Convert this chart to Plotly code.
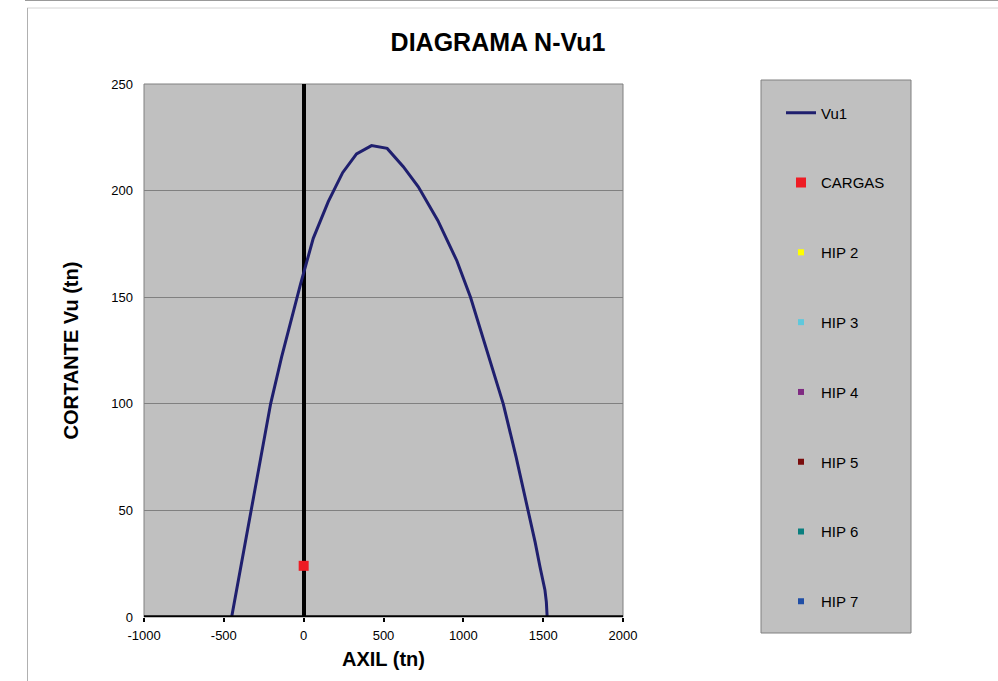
import plotly.graph_objects as go

# Interaction curve N - Vu1 (axial load vs. shear capacity)
axil_tn = [-451, -391, -330, -269, -207, -138, -70, -20, 60, 154, 244, 331,
           425, 523, 624, 718, 840, 960, 1045, 1146, 1250, 1330, 1407, 1450,
           1480, 1500, 1511, 1520, 1525]
cortante_tn = [0, 25, 50, 75, 100, 122, 142, 156, 177.6, 194.8, 208.4, 217.2,
               221.1, 219.8, 211.2, 201.8, 186, 167, 150, 125, 100, 75.2, 50,
               35, 23.6, 16.5, 12.7, 7, 0]

# Load case
cargas_n = [0]
cargas_v = [24]

# Empty load hypotheses shown in the legend
hip_names = ["HIP 2", "HIP 3", "HIP 4", "HIP 5", "HIP 6", "HIP 7"]
hip_colors = ["#ffff00", "#5fc8dc", "#7f2a82", "#7a0c0c", "#0a7f7f", "#1f4ea6"]

x_ticks = [-1000, -500, 0, 500, 1000, 1500, 2000]
x_labels = ["-1000", "-500", "0", "500", "1000", "1500", "2000"]
y_ticks = [0, 50, 100, 150, 200, 250]

FONT = "Arial, 'Liberation Sans', sans-serif"

W, H = 998, 681
ML, MR, MT, MB = 144, 375, 84, 64
PW, PH = W - ML - MR, H - MT - MB


def px(xp):
    return (xp - ML) / PW


def py(yp):
    return (H - MB - yp) / PH


fig = go.Figure()

fig.add_trace(go.Scatter(
    x=axil_tn, y=cortante_tn, mode="lines", name="Vu1",
    line=dict(color="#1f1f6e", width=3), legendgroup="g0",
))
fig.add_trace(go.Scatter(
    x=cargas_n, y=cargas_v, mode="markers", name="CARGAS",
    marker=dict(symbol="square", size=10, color="#ee1c24"), legendgroup="g1",
))
for i, (name, color) in enumerate(zip(hip_names, hip_colors)):
    fig.add_trace(go.Scatter(
        x=[None], y=[None], mode="markers", name=name,
        marker=dict(symbol="square", size=6, color=color),
        legendgroup=f"g{i + 2}",
    ))

shapes = [
    # outer frame lines
    dict(type="line", xref="paper", yref="paper", x0=px(25), x1=px(998),
         y0=py(0.5), y1=py(0.5), line=dict(color="#9a9a9a", width=1)),
    dict(type="line", xref="paper", yref="paper", x0=px(27), x1=px(998),
         y0=py(8), y1=py(8), line=dict(color="#d4d4d4", width=1)),
    dict(type="line", xref="paper", yref="paper", x0=px(27.5), x1=px(27.5),
         y0=py(8), y1=py(681), line=dict(color="#b0b0b0", width=1)),
    # plot area border
    dict(type="rect", xref="paper", yref="paper", x0=0, x1=1, y0=0, y1=1,
         line=dict(color="#808080", width=1), layer="below"),
    # legend box
    dict(type="rect", xref="paper", yref="paper", x0=px(761), x1=px(911),
         y0=py(633), y1=py(80), line=dict(color="#808080", width=1),
         fillcolor="#c0c0c0", layer="below"),
    # horizontal axis line
    dict(type="line", xref="paper", yref="y", x0=0, x1=1, y0=0, y1=0,
         line=dict(color="black", width=3.5)),
]

fig.update_layout(
    width=W, height=H,
    margin=dict(l=ML, r=MR, t=MT, b=MB),
    paper_bgcolor="white",
    plot_bgcolor="#c0c0c0",
    font=dict(family=FONT, size=13, color="black"),
    title=dict(text="<b>DIAGRAMA N-Vu1</b>", x=498 / W, y=1 - 42 / H,
               xanchor="center", yanchor="middle", xref="container",
               yref="container", font=dict(size=25, family=FONT)),
    xaxis=dict(range=[-1000, 2000], tickvals=x_ticks, ticktext=x_labels,
               showgrid=False, zeroline=True, zerolinecolor="black",
               zerolinewidth=3.5, ticks="outside", ticklen=4, tickwidth=2,
               tickcolor="black", showline=False, tickfont=dict(size=13),
               ticklabelstandoff=2,
               title=dict(text="<b>AXIL (tn)</b>", font=dict(size=20), standoff=10)),
    yaxis=dict(range=[0, 250], tickvals=y_ticks, showgrid=True,
               gridcolor="#808080", gridwidth=1, zeroline=False,
               showline=False, ticks="", tickfont=dict(size=13),
               ticklabelstandoff=10,
               title=dict(text="<b>CORTANTE Vu (tn)</b>", font=dict(size=20), standoff=27)),
    shapes=shapes,
    showlegend=True,
    legend=dict(x=px(781), y=py(96.5), xanchor="left", yanchor="top",
                bgcolor="rgba(0,0,0,0)", borderwidth=0, maxheight=H,
                font=dict(size=15), tracegroupgap=47.3, traceorder="grouped",
                itemwidth=30),
)

fig.write_html("out.html")
